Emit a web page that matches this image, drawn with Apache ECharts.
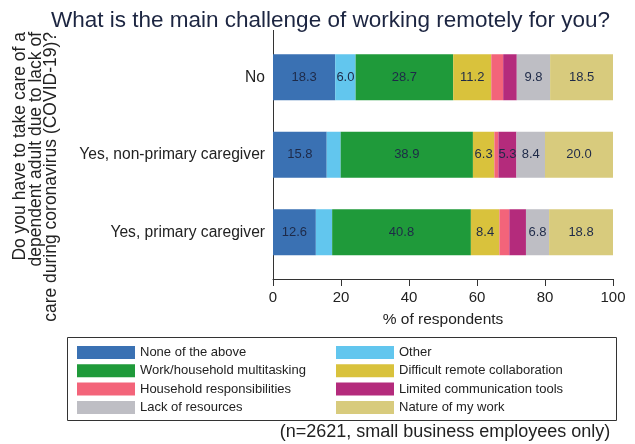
<!DOCTYPE html>
<html>
<head>
<meta charset="utf-8">
<script src="https://cdn.jsdelivr.net/npm/echarts@6/dist/echarts.min.js"></script>
<style>
  html, body { margin: 0; padding: 0; background: #fff; }
  #chart { width: 635px; height: 444px; }
</style>
</head>
<body>
<div id="chart"></div>
<script>
var categories = ['No', 'Yes, non-primary caregiver', 'Yes, primary caregiver'];

var seriesNames = [
	'None of the above', 'Other', 'Work/household multitasking', 'Difficult remote collaboration',
	'Household responsibilities', 'Limited communication tools', 'Lack of resources', 'Nature of my work'
];
var noneOfAbove = [18.3, 15.8, 12.6];
var other = [6.0, 4.1, 4.8];
var multitasking = [28.7, 38.9, 40.8];
var collaboration = [11.2, 6.3, 8.4];
var household = [3.5, 1.2, 2.9];
var commTools = [4.0, 5.3, 4.9];
var resources = [9.8, 8.4, 6.8];
var natureOfWork = [18.5, 20.0, 18.8];

var xTicks = [0, 20, 40, 60, 80, 100];

var colors = ['#3a71b3', '#62c6ee', '#1f9a3a', '#d9c23c', '#f3647a', '#b42b7c', '#bebec4', '#d8cb7d'];
var allValues = [noneOfAbove, other, multitasking, collaboration, household, commTools, resources, natureOfWork];

var fontFam = 'Liberation Sans, Arial, sans-serif';

var series = seriesNames.map(function (name, i) {
	return {
		name: name,
		type: 'bar',
		stack: 'total',
		barWidth: 46,
		itemStyle: { color: colors[i] },
		label: {
			show: true,
			color: '#1e2a48',
			fontSize: 13,
			fontFamily: fontFam,
			formatter: function (p) {
				return p.value >= 5 ? p.value.toFixed(1) : '';
			}
		},
		data: allValues[i]
	};
});

var option = {
	backgroundColor: '#fff',
	animation: false,
	title: {
		text: 'What is the main challenge of working remotely for you?',
		left: 46,
		top: 4,
		textStyle: { fontSize: 22.5, fontWeight: 'normal', color: '#1c2541', fontFamily: fontFam }
	},
	grid: { left: 273, right: 22, top: 38.5, height: 232.5 },
	xAxis: {
		type: 'value',
		min: 0,
		max: 100,
		interval: 20,
		offset: 8,
		name: '% of respondents',
		nameLocation: 'middle',
		nameGap: 33,
		nameTextStyle: { fontSize: 15.5, color: '#222', fontFamily: fontFam },
		axisLine: { show: true, lineStyle: { color: '#333', width: 1 } },
		axisTick: { show: true, length: 7, lineStyle: { color: '#333' } },
		axisLabel: {
			fontSize: 15, color: '#222', margin: 11, fontFamily: fontFam,
			formatter: function (v) { return xTicks.indexOf(v) >= 0 ? String(v) : ''; }
		},
		splitLine: { show: false }
	},
	yAxis: {
		type: 'category',
		inverse: true,
		data: categories,
		axisLine: { show: false },
		axisTick: { show: false },
		axisLabel: { fontSize: 15.6, color: '#222', margin: 8, fontFamily: fontFam }
	},
	legend: [{
		orient: 'vertical',
		left: 72,
		top: 341,
		itemWidth: 58,
		itemHeight: 13,
		itemGap: 5.3,
		icon: 'rect',
		textStyle: { fontSize: 13, color: '#222', fontFamily: fontFam },
		data: [seriesNames[0], seriesNames[2], seriesNames[4], seriesNames[6]]
	}, {
		orient: 'vertical',
		left: 331,
		top: 341,
		itemWidth: 58,
		itemHeight: 13,
		itemGap: 5.3,
		icon: 'rect',
		textStyle: { fontSize: 13, color: '#222', fontFamily: fontFam },
		data: [seriesNames[1], seriesNames[3], seriesNames[5], seriesNames[7]]
	}],
	graphic: [{
		type: 'line',
		shape: { x1: 273.5, y1: 30, x2: 273.5, y2: 279 },
		style: { stroke: '#333', lineWidth: 1 }
	}, {
		type: 'rect',
		shape: { x: 67.5, y: 337.5, width: 549, height: 83 },
		style: { fill: 'none', stroke: '#333', lineWidth: 1 }
	}, {
		type: 'text',
		x: 36,
		y: 32,
		rotation: Math.PI / 2,
		style: {
			text: 'Do you have to take care of a\ndependent adult due to lack of\ncare during coronavirus (COVID-19)?',
			fontSize: 17.5,
			lineHeight: 15.5,
			fill: '#222',
			fontFamily: fontFam,
			align: 'right',
			verticalAlign: 'middle'
		}
	}, {
		type: 'text',
		x: 445,
		y: 432,
		style: {
			text: '(n=2621, small business employees only)',
			fontSize: 18,
			fill: '#222',
			fontFamily: fontFam,
			align: 'center',
			verticalAlign: 'middle'
		}
	}],
	series: series
};

var myChart = echarts.init(document.getElementById('chart'));
myChart.setOption(option);
</script>
</body>
</html>
